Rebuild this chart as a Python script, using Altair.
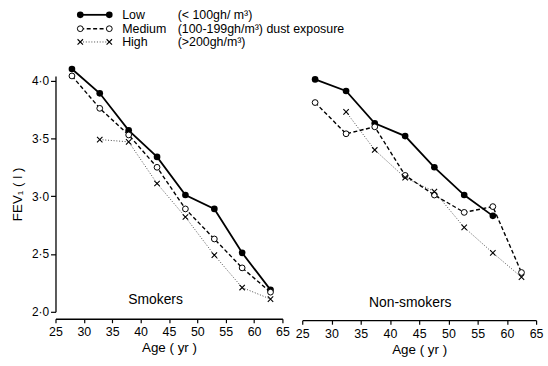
import altair as alt
import pandas as pd

# ---------------- data ----------------
groups = ["Low", "Medium", "High"]
group_desc = ["(< 100gh/ m³)", "(100-199gh/m³)  dust exposure", "(>200gh/m³)"]

smk_age = [27.9, 32.8, 37.9, 42.9, 47.9, 53.0, 57.9, 62.9]
smk_low = [4.10, 3.89, 3.57, 3.34, 3.01, 2.89, 2.51, 2.19]
smk_med = [4.04, 3.76, 3.53, 3.25, 2.89, 2.63, 2.38, 2.17]
smk_high = [None, 3.49, 3.47, 3.11, 2.82, 2.49, 2.21, 2.11]

non_age = [27.2, 32.5, 37.4, 42.6, 47.6, 52.7, 57.6, 62.5]
non_low = [4.01, 3.91, 3.63, 3.52, 3.25, 3.01, 2.83, None]
non_med = [3.81, 3.54, 3.60, 3.18, 3.01, 2.86, 2.91, 2.34]
non_high = [None, 3.73, 3.40, 3.16, 3.04, 2.73, 2.51, 2.30]

x_ticks = [25, 30, 35, 40, 45, 50, 55, 60, 65]
y_ticks = [2.0, 2.5, 3.0, 3.5, 4.0]
panel_titles = ["Smokers", "Non-smokers"]
x_title = "Age  ( yr )"
y_title = "FEV₁   ( l )"

FONT = "Liberation Sans"
W_L, W_R, H = 229, 236, 238

def series_df(ages, vals):
    return pd.DataFrame([{"age": a, "fev": v} for a, v in zip(ages, vals) if v is not None])

styles = {
    "Low": dict(line=dict(strokeWidth=1.8), pt=dict(shape="circle", filled=True, size=45, strokeWidth=0)),
    "Medium": dict(line=dict(strokeWidth=1.4, strokeDash=[4, 2.5]),
                   pt=dict(shape="circle", filled=False, size=34, strokeWidth=1.0, fill="white")),
    "High": dict(line=dict(strokeWidth=0.9, strokeDash=[1, 1.8], strokeOpacity=0.8),
                 pt=dict(shape="M-1,-1L1,1M-1,1L1,-1", filled=False, size=30, strokeWidth=1.1)),
}

yscale = alt.Scale(domain=[2.0, 4.04], nice=False, zero=False)
xscale = alt.Scale(domain=[25, 65], nice=False, zero=False)


def make_panel(ages, low, med, high, title, show_y, x_offset, label_x, label_y):
    x_axis = alt.Axis(values=x_ticks, offset=x_offset, tickSize=4, tickColor="black", tickWidth=1.2,
                      domainColor="black", domainWidth=1.3, labelFont=FONT, labelFontSize=12.5,
                      labelColor="black", labelPadding=3, title=x_title, titleFont=FONT,
                      titleFontSize=13.5, titleFontWeight="normal", titleColor="black",
                      titlePadding=3, grid=False, labelFlush=False)
    if show_y:
        y_axis = alt.Axis(values=y_ticks, labelExpr="replace(format(datum.value, '.1f'), '.', '·')",
                          tickSize=5, tickColor="black", tickWidth=1.2, domainColor="black",
                          domainWidth=1.3, labelFont=FONT, labelFontSize=12, labelColor="black",
                          labelPadding=2, title=y_title, titleFont=FONT, titleFontSize=13.5,
                          titleFontWeight="normal", titleColor="black", titlePadding=7, grid=False)
    else:
        y_axis = None
    xe = alt.X("age:Q", scale=xscale, axis=x_axis)
    ye = alt.Y("fev:Q", scale=yscale, axis=y_axis)
    layers = []
    for g, vals in zip(groups, [low, med, high]):
        df = series_df(ages, vals)
        st = styles[g]
        layers.append(alt.Chart(df).mark_line(color="black", **st["line"]).encode(x=xe, y=ye))
        layers.append(alt.Chart(df).mark_point(color="black", opacity=1, **st["pt"]).encode(x=xe, y=ye))
    lab = pd.DataFrame({"t": [title]})
    layers.append(alt.Chart(lab).mark_text(font=FONT, fontSize=14, color="black", align="center",
                                           baseline="alphabetic").encode(
        x=alt.value(label_x), y=alt.value(label_y), text="t:N"))
    return layers


left_layers = make_panel(smk_age, smk_low, smk_med, smk_high, panel_titles[0], True, 7, 101, 230.5)
right_layers = make_panel(non_age, non_low, non_med, non_high, panel_titles[1], False, 8.5, 109, 233)

# legend drawn above the left panel
leg_rows_y = [-61.7, -47.7, -34.3]
for g, desc, ry in zip(groups, group_desc, leg_rows_y):
    st = styles[g]
    d = pd.DataFrame({"g": [g], "d": [desc]})
    left_layers.append(alt.Chart(d).mark_rule(color="black", **st["line"]).encode(
        x=alt.value(25), x2=alt.value(54.3), y=alt.value(ry)))
    for px in (25, 54.3):
        left_layers.append(alt.Chart(d).mark_point(color="black", opacity=1, **st["pt"]).encode(
            x=alt.value(px), y=alt.value(ry)))
    left_layers.append(alt.Chart(d).mark_text(font=FONT, fontSize=12.5, color="black", align="left",
                                              baseline="middle").encode(
        x=alt.value(67.3), y=alt.value(ry), text="g:N"))
    left_layers.append(alt.Chart(d).mark_text(font=FONT, fontSize=12.5, color="black", align="left",
                                              baseline="middle").encode(
        x=alt.value(123.3), y=alt.value(ry), text="d:N"))

left = alt.layer(*left_layers).properties(width=W_L, height=H)
right = alt.layer(*right_layers).properties(width=W_R, height=H)

chart = alt.hconcat(left, right, spacing=20, bounds="flush").properties(
    padding={"left": 10, "top": 7, "right": 5, "bottom": 5},
    background="white",
).configure_view(stroke="transparent", strokeWidth=0)

chart.save("out.html", embed_options={"renderer": "svg", "actions": False})
